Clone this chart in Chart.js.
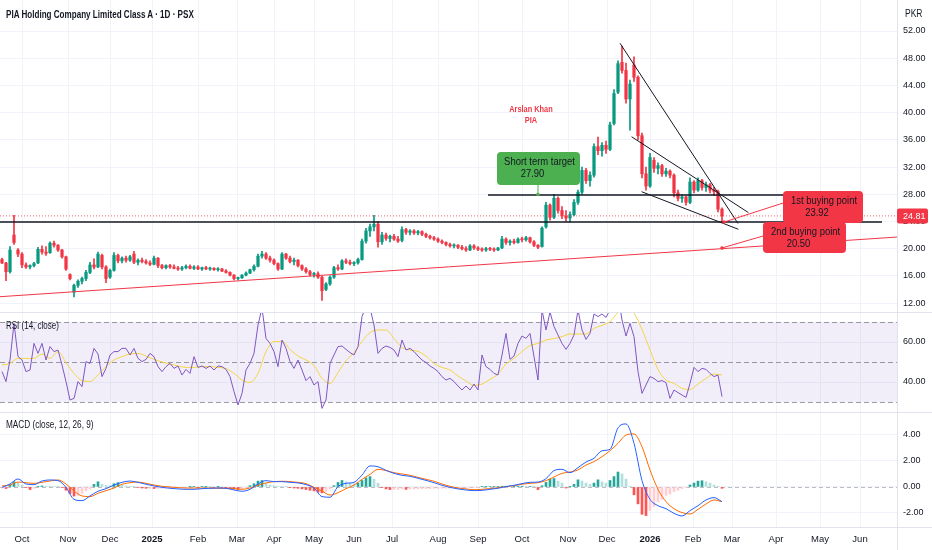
<!DOCTYPE html>
<html>
<head>
<meta charset="utf-8">
<title>PIA Holding Company Limited Class A · 1D · PSX</title>
<script src="https://cdn.jsdelivr.net/npm/chart.js@4.4.1/dist/chart.umd.min.js"></script>
<style>
  html, body { margin: 0; padding: 0; background: #fff; }
  #wrap { position: relative; width: 932px; height: 550px; overflow: hidden; }
  #wrap canvas { position: absolute; left: 0; }
  .pane-label {
    position: absolute; line-height: 1; white-space: nowrap; color: #131722;
    font-family: "Liberation Sans Narrow", "Arial Narrow", "Liberation Sans", Arial, sans-serif;
    transform-origin: left top;
  }
</style>
</head>
<body>
<div id="wrap">
  <canvas id="priceChart" width="932" height="312" style="top:0"></canvas>
  <canvas id="rsiChart" width="932" height="100" style="top:312px"></canvas>
  <canvas id="macdChart" width="932" height="138" style="top:412px"></canvas>
  <div class="pane-label" style="left:6px;top:9px;font-size:10.5px;font-weight:600;transform:scaleX(0.77)">PIA Holding Company Limited Class A · 1D · PSX</div>
  <div class="pane-label" style="left:905px;top:9px;font-size:10px;transform:scaleX(0.85)">PKR</div>
  <div class="pane-label" style="left:6px;top:321px;font-size:10px;transform:scaleX(0.8)">RSI (14, close)</div>
  <div class="pane-label" style="left:6px;top:420px;font-size:10px;transform:scaleX(0.82)">MACD (close, 12, 26, 9)</div>
</div>
<script>
// ---- data (one sample every 2 bars; smooth lines every 4 bars) ----
const opens = [
  18.4, 17.9, 16.6, 22.0, 19.8, 19.2, 17.6, 17.3, 17.5, 17.9,
  19.9, 19.5, 19.4, 20.8, 20.5, 19.8, 18.8, 16.2, 13.6, 14.6,
  15.2, 15.6, 16.5, 17.6, 17.3, 19.0, 17.3, 15.8, 16.8, 19.0,
  18.2, 18.6, 18.3, 19.2, 18.0, 18.3, 18.1, 17.9, 17.7, 18.6,
  17.5, 17.2, 17.5, 17.3, 17.1, 17.0, 17.2, 17.4, 17.1, 17.3,
  17.0, 17.2, 17.0, 17.1, 16.9, 17.0, 16.7, 16.5, 16.1, 15.6,
  15.7, 16.1, 16.4, 16.9, 17.4, 18.9, 19.2, 18.6, 18.3, 17.8,
  17.0, 19.2, 18.6, 18.1, 18.3, 17.5, 17.0, 16.6, 16.2, 16.3,
  15.8, 14.0, 14.8, 15.8, 17.2, 17.0, 18.2, 18.0, 17.8, 17.9,
  18.4, 21.1, 22.6, 23.2, 23.6, 21.0, 22.0, 21.5, 21.8, 21.4,
  21.2, 22.8, 22.4, 22.6, 22.3, 22.5, 22.1, 21.8, 21.6, 21.4,
  21.1, 20.9, 20.6, 20.4, 20.5, 20.2, 20.0, 19.8, 20.4, 20.1,
  19.9, 19.8, 20.0, 19.9, 19.8, 20.1, 21.4, 20.9, 21.1, 20.9,
  21.4, 21.3, 21.6, 21.0, 20.5, 20.3, 23.2, 26.4, 24.6, 27.4,
  25.6, 24.8, 24.5, 25.0, 26.8, 28.3, 31.5, 30.0, 30.8, 35.0,
  34.4, 35.2, 34.6, 38.4, 43.0, 47.4, 46.2, 42.0, 47.0, 45.2,
  36.6, 31.0, 29.2, 33.0, 31.8, 32.2, 31.0, 31.4, 30.8, 28.2,
  27.4, 27.6, 26.8, 29.8, 28.6, 30.0, 29.0, 29.4, 28.6, 28.4, 25.8
];
const highs = [
  18.6, 18.0, 20.3, 24.9, 20.0, 19.4, 17.9, 17.6, 18.0, 20.2,
  20.4, 20.3, 21.0, 21.1, 20.6, 19.9, 18.9, 16.3, 14.8, 15.4,
  15.8, 16.8, 18.0, 18.5, 19.5, 19.2, 17.5, 17.0, 19.4, 19.2,
  18.8, 18.9, 19.0, 19.6, 18.5, 18.6, 18.4, 18.2, 18.9, 18.7,
  17.7, 17.6, 17.7, 17.6, 17.4, 17.4, 17.6, 17.6, 17.5, 17.5,
  17.3, 17.4, 17.3, 17.2, 17.2, 17.1, 16.9, 16.6, 16.2, 15.8,
  16.2, 16.6, 17.0, 17.6, 19.2, 19.6, 19.4, 18.9, 18.5, 17.9,
  19.4, 19.3, 18.9, 18.6, 18.4, 17.6, 17.2, 16.8, 16.5, 16.6,
  16.0, 15.0, 16.0, 17.4, 17.6, 18.4, 18.5, 18.3, 18.1, 18.6,
  21.4, 23.0, 23.6, 24.9, 24.0, 22.4, 22.3, 22.0, 22.1, 21.8,
  23.2, 23.0, 22.8, 22.8, 22.7, 22.6, 22.3, 22.0, 21.8, 21.6,
  21.3, 21.0, 20.8, 20.7, 20.6, 20.5, 20.3, 20.6, 20.6, 20.3,
  20.1, 20.2, 20.2, 20.1, 20.2, 21.8, 21.6, 21.3, 21.4, 21.6,
  21.7, 21.8, 21.7, 21.2, 20.6, 23.2, 26.8, 26.6, 28.0, 27.6,
  26.2, 25.6, 25.4, 27.2, 28.6, 32.0, 31.8, 31.3, 35.4, 36.4,
  35.6, 35.8, 38.6, 43.4, 47.6, 49.8, 47.3, 44.8, 48.2, 45.4,
  37.0, 32.0, 34.0, 33.4, 32.6, 32.4, 31.8, 31.6, 31.0, 28.6,
  28.0, 27.8, 30.4, 30.0, 30.4, 30.2, 29.8, 29.6, 29.0, 28.6, 26.0
];
const lows = [
  17.8, 15.3, 16.4, 20.6, 18.8, 17.2, 17.1, 17.0, 17.3, 17.8,
  19.2, 19.0, 19.3, 20.2, 19.6, 18.6, 16.8, 15.4, 12.9, 14.3,
  14.8, 15.3, 16.3, 17.0, 17.2, 17.0, 15.0, 15.6, 16.7, 17.9,
  17.9, 18.0, 18.1, 17.8, 17.6, 17.9, 17.7, 17.5, 17.6, 17.2,
  17.0, 17.0, 17.1, 17.0, 16.8, 16.8, 17.0, 17.0, 16.9, 16.9,
  16.8, 16.9, 16.8, 16.8, 16.7, 16.6, 16.4, 16.0, 15.4, 15.4,
  15.6, 16.0, 16.3, 16.7, 17.3, 18.6, 18.4, 18.0, 17.6, 16.8,
  16.9, 18.4, 17.9, 17.6, 17.3, 16.8, 16.4, 16.0, 15.8, 15.6,
  12.4, 13.8, 14.6, 15.6, 16.8, 16.9, 17.8, 17.6, 17.5, 17.7,
  18.3, 20.8, 21.8, 22.6, 20.2, 20.6, 21.2, 21.0, 21.2, 20.9,
  21.0, 22.1, 22.0, 22.1, 22.0, 21.9, 21.6, 21.4, 21.2, 20.9,
  20.7, 20.4, 20.2, 20.1, 20.0, 19.8, 19.6, 19.7, 19.9, 19.7,
  19.6, 19.6, 19.7, 19.6, 19.7, 20.0, 20.6, 20.5, 20.7, 20.8,
  21.0, 21.1, 20.8, 20.3, 20.0, 20.2, 23.0, 24.2, 24.4, 25.2,
  24.4, 24.0, 23.9, 24.8, 26.5, 28.0, 29.6, 29.2, 30.5, 33.8,
  33.6, 34.0, 34.4, 38.2, 42.8, 45.8, 41.4, 37.4, 44.6, 36.0,
  30.4, 28.6, 29.0, 31.2, 31.0, 30.6, 30.6, 30.4, 27.6, 27.0,
  26.8, 26.4, 26.6, 28.2, 28.4, 28.6, 28.4, 28.2, 27.8, 25.4, 23.8
];
const closes = [
  17.9, 16.6, 19.8, 20.9, 19.2, 17.6, 17.3, 17.5, 17.8, 19.9,
  19.5, 19.3, 20.8, 20.5, 19.8, 18.8, 17.0, 15.6, 14.6, 15.2,
  15.6, 16.5, 17.6, 17.3, 19.2, 17.3, 15.6, 16.8, 19.0, 18.2,
  18.6, 18.3, 18.8, 18.0, 18.3, 18.1, 17.9, 17.7, 18.6, 17.5,
  17.2, 17.5, 17.3, 17.1, 17.0, 17.2, 17.4, 17.1, 17.3, 17.0,
  17.2, 17.0, 17.1, 16.9, 17.0, 16.7, 16.5, 16.1, 15.6, 15.7,
  16.1, 16.4, 16.9, 17.4, 18.9, 19.2, 18.6, 18.3, 17.8, 17.0,
  19.2, 18.6, 18.1, 18.3, 17.5, 17.0, 16.6, 16.2, 16.3, 15.8,
  13.8, 14.8, 15.8, 17.2, 17.0, 18.2, 18.0, 17.8, 17.9, 18.4,
  21.1, 22.6, 23.2, 23.6, 21.0, 22.0, 21.5, 21.8, 21.4, 21.1,
  22.8, 22.4, 22.6, 22.3, 22.5, 22.1, 21.8, 21.6, 21.4, 21.1,
  20.9, 20.6, 20.4, 20.5, 20.2, 20.0, 19.8, 20.4, 20.1, 19.9,
  19.8, 20.0, 19.9, 19.8, 20.1, 21.4, 20.9, 21.1, 20.9, 21.4,
  21.3, 21.6, 21.0, 20.5, 20.2, 23.0, 26.4, 24.6, 27.4, 25.6,
  24.8, 24.5, 25.0, 26.8, 28.3, 31.5, 30.0, 30.8, 35.0, 34.4,
  35.2, 34.6, 38.2, 42.8, 47.2, 46.2, 42.0, 44.2, 45.2, 36.6,
  31.0, 29.2, 33.4, 31.8, 32.2, 31.0, 31.4, 30.8, 28.2, 27.4,
  27.6, 26.8, 29.8, 28.6, 30.0, 29.0, 29.4, 28.6, 28.4, 25.8, 24.81
];
const rsiValues = [
  45.2, 40.2, 51, 69.3, 52.7, 51, 45.2, 46, 59.3, 54.3,
  59.3, 51, 57.7, 55.2, 56, 48.5, 40.2, 31, 31.8, 40.2,
  37.7, 50.2, 49.3, 56.8, 54, 42.7, 46.8, 53.5, 55.2, 55.2,
  56.8, 56.8, 53.5, 56.8, 51.8, 50.2, 51.3, 54.3, 52.7, 47.7,
  45.2, 47.7, 49.3, 46.8, 48, 43.5, 46.3, 44.3, 52.7, 47.3,
  48, 46.8, 48, 46, 48, 47.7, 46.3, 42.7, 35.2, 28.5,
  34.3, 46, 49.3, 54.3, 68.5, 77, 61.8, 59.3, 55.2, 47.7,
  61, 56.8, 50.2, 46.8, 51, 46, 40.7, 42.7, 38.5, 40.2,
  26.8, 31, 49.3, 53.5, 57.7, 58, 56.3, 54.7, 53.5, 57.7,
  72.7, 78, 77, 68.5, 54.3, 56.8, 58, 57.3, 56, 52.7,
  61, 56, 56.8, 55.2, 53, 51, 49.7, 48, 46.8, 45.2,
  42.7, 41, 41.8, 40.2, 38, 36, 38, 36, 39, 36,
  53.5, 47.7, 46.3, 44.3, 43.5, 53.5, 64.3, 51.3, 53, 59.3,
  63, 61.8, 64.3, 52.7, 41, 76, 66, 75, 67.7, 63.5,
  59.3, 56.3, 59.3, 63.5, 76, 66, 61.3, 64.3, 74, 72.7,
  74, 72.3, 76, 80, 84, 71, 63, 69.3, 62.7, 45.2,
  34.3, 38.5, 42.7, 41.8, 40.2, 40.7, 39.7, 31.8, 36, 34.7,
  33.5, 32.3, 39.3, 47.3, 45.2, 46.8, 46.3, 44.3, 42.7, 43.5, 32.7
];
const rsiMa = [
  48.5, 49.3, 51.8, 51.8, 51.8, 54, 51.8, 55.2, 49.7, 44.3,
  40.7, 40.3, 43.5, 47.7, 51, 52.7, 54, 54.3, 53, 51.3,
  50, 49, 48, 47.3, 47.3, 47.7, 47.7, 47.3, 46.7, 44.3,
  41, 39.8, 44.3, 55.2, 60.2, 60.3, 56.3, 53, 51, 48.2,
  41.8, 39.3, 44.7, 50.7, 54.7, 60.2, 64.7, 66, 66, 61.8,
  57.3, 56, 55.3, 53, 49.3, 47.3, 46, 43, 40.5, 38.3,
  39, 41.3, 44, 49, 51.8, 55.2, 58.2, 59.3, 61, 61.7,
  62.7, 64, 64, 64, 66.8, 68.3, 70.2, 74.7, 77, 74.3,
  66.3, 56, 46.3, 41, 39.3, 36.8, 36.3, 39, 41.8, 44, 43.5
];
const macdLine = [
  -0.03, 0.23, 0.62, 0.23, 0.18, 0.46, 0.54, 0.49, -0.03, -0.95,
  -1.05, -0.69, -0.33, -0.13, 0.15, 0.36, 0.46, 0.36, 0.21, 0.08,
  -0.03, -0.10, -0.15, -0.18, -0.18, -0.13, -0.10, -0.08, -0.10, -0.23,
  -0.33, -0.18, 0.23, 0.49, 0.41, 0.41, 0.36, 0.31, 0.18, -0.08,
  -0.74, -0.79, 0.03, 0.28, 0.36, 0.92, 1.62, 1.56, 1.28, 1.05,
  0.90, 0.82, 0.67, 0.51, 0.33, 0.13, -0.03, -0.15, -0.23, -0.28,
  -0.26, -0.18, -0.10, 0.03, 0.13, 0.26, 0.36, 0.38, 0.64, 1.26,
  1.36, 1.10, 1.49, 1.92, 2.21, 2.79, 2.90, 4.55, 4.85, 3.36,
  0.49, -0.95, -1.44, -1.67, -2.03, -2.23, -1.82, -1.44, -1.0, -0.82, -1.13
];
const signalLine = [
  0.08, 0.15, 0.38, 0.33, 0.28, 0.36, 0.46, 0.54, 0.23, -0.31,
  -0.69, -0.74, -0.49, -0.28, -0.08, 0.21, 0.33, 0.38, 0.28, 0.15,
  0.05, 0.0, -0.05, -0.08, -0.08, -0.08, -0.08, -0.10, -0.10, -0.13,
  -0.18, -0.08, 0.13, 0.31, 0.41, 0.44, 0.41, 0.36, 0.26, -0.03,
  -0.31, -0.62, -0.44, -0.13, 0.15, 0.59, 0.97, 1.36, 1.26, 1.10,
  1.0, 0.90, 0.74, 0.59, 0.44, 0.23, 0.05, -0.08, -0.15, -0.21,
  -0.18, -0.13, -0.05, 0.03, 0.10, 0.21, 0.28, 0.33, 0.49, 0.77,
  1.05, 1.15, 1.31, 1.69, 1.95, 2.33, 2.79, 3.36, 4.0, 4.08,
  3.10, 1.31, -0.18, -1.13, -1.67, -1.97, -2.08, -1.72, -1.31, -1.0, -1.13
];
const histogram = [
  -0.08, -0.12, 0.15, 0.4, 0.3, 0.15, -0.05, -0.2, -0.1, 0.05,
  0.08, 0.06, 0.05, 0.04, 0.02, -0.05, -0.25, -0.5, -0.7, -0.65,
  -0.5, -0.3, -0.15, 0.2, 0.4, 0.2, 0.12, 0.1, 0.25, 0.33,
  0.15, 0.08, 0.05, 0.03, -0.03, -0.08, -0.1, -0.1, -0.12, -0.1,
  -0.1, -0.08, -0.06, -0.05, -0.03, -0.02, -0.02, 0.02, 0.03, -0.02,
  0.02, 0.02, 0.01, -0.02, 0.01, -0.02, -0.03, -0.08, -0.15, -0.2,
  -0.15, -0.05, 0.1, 0.25, 0.45, 0.5, 0.3, 0.15, 0.1, 0.05,
  0.04, 0.02, -0.05, -0.08, -0.1, -0.15, -0.2, -0.25, -0.3, -0.4,
  -0.45, -0.35, -0.15, 0.1, 0.35, 0.5, 0.4, 0.3, 0.25, 0.3,
  0.5, 0.7, 0.8, 0.6, 0.3, -0.05, -0.15, -0.2, -0.2, -0.18,
  -0.15, -0.18, -0.16, -0.15, -0.15, -0.13, -0.12, -0.12, -0.1, -0.1,
  -0.1, -0.09, -0.08, -0.08, -0.07, -0.06, -0.05, -0.04, -0.03, -0.02,
  0.02, 0.03, 0.04, 0.05, 0.05, 0.06, 0.06, 0.05, 0.05, 0.06,
  0.06, 0.05, 0.05, 0.02, -0.2, 0.1, 0.35, 0.6, 0.65, 0.45,
  0.3, -0.08, 0.05, 0.2, 0.55, 0.45, 0.3, 0.2, 0.3, 0.55,
  0.4, 0.3, 0.5, 0.8, 1.15, 1.0, 0.6, 0.05, -0.6, -1.3,
  -2.1, -2.2, -1.8, -1.5, -1.15, -0.95, -0.65, -0.55, -0.35, -0.25,
  -0.12, -0.05, 0.15, 0.3, 0.45, 0.48, 0.4, 0.3, 0.15, 0.05, -0.1
];

// month ticks, in trading-bar units from the left edge of the chart
const monthTickPos = [11, 34, 55, 76, 99, 118.5, 137, 157, 177, 196, 219, 239, 261, 284, 303.5, 325, 346.5, 366, 388, 410, 430];
const monthTickLabels = ['Oct', 'Nov', 'Dec', '2025', 'Feb', 'Mar', 'Apr', 'May', 'Jun', 'Jul', 'Aug', 'Sep', 'Oct', 'Nov', 'Dec', '2026', 'Feb', 'Mar', 'Apr', 'May', 'Jun'];
const priceTicks = [12, 16, 20, 24, 28, 32, 36, 40, 44, 48, 52];
const rsiTicks = [40, 60];
const macdTicks = [-2, 0, 2, 4];

// drawings on the price pane: [bar, price] pairs
const lastPrice = 24.81;
const levels = [{ from: 244, to: 431, price: 27.9 }, { from: 0, to: 441, price: 23.92 }];
const wedgeLines = [[310, 50.2, 369, 23.7], [315.8, 36.45, 374.2, 25.3], [320.8, 28.37, 369.2, 22.84]];
const supportTrend = [0, 12.93, 448.5, 21.7];
const callouts = [
  { text: ['Short term target', '27.90'], fill: '#4CAF50', box: [248.5, 34.2, 290, 29.35], from: [269, 29.35], to: [269, 27.95] },
  { text: ['1st buying point', '23.92'], fill: '#F23645', box: [391.5, 28.47, 431.5, 23.76], from: [391.5, 26.7], to: [362, 23.9] },
  { text: ['2nd buying point', '20.50'], fill: '#F23645', box: [381.5, 23.9, 423, 19.35], from: [381.5, 21.85], to: [361, 20.1] }
];
const signature = { lines: ['Arslan Khan', 'PIA'], bar: 265.5, prices: [40.4, 38.8] };

// ---- look ----
const FONT = '"Liberation Sans Narrow", "Arial Narrow", "Liberation Sans", Arial, sans-serif';
const TEXT = '#131722';
const GRID = '#f0f3fa';
const EDGE = '#e0e3eb';
const UP = '#089981';
const DOWN = '#F23645';
const NARROW = 0.82;
const FIRST_BAR = 1;
const DAILY_STEP = 2;
const SMOOTH_STEP = 4;
const X_MIN = 0;
const X_MAX = 448.5;
const AXIS_WIDTH = 35;

const atBar = (values, step) => values.map((v, i) => ({ x: FIRST_BAR + i * step, y: v }));

// text squeezed horizontally, the chart's labels are set in a condensed face
function narrowText(ctx, text, x, y) {
  ctx.save();
  ctx.translate(x, y);
  ctx.scale(NARROW, 1);
  ctx.fillText(text, 0, 0);
  ctx.restore();
}

function timeAxis(showLabels) {
  return {
    type: 'linear', min: X_MIN, max: X_MAX, offset: false,
    afterBuildTicks: s => { s.ticks = monthTickPos.map(v => ({ value: v })); },
    afterFit: s => {
      s.height = showLabels ? 23 : 0;
      s.paddingLeft = 0;
      s.paddingRight = 0;
    },
    grid: { color: GRID, drawTicks: false, offset: false },
    border: { display: showLabels, color: EDGE },
    ticks: {
      display: showLabels, autoSkip: false, maxRotation: 0, padding: 7, color: TEXT,
      callback: (v, i) => monthTickLabels[i],
      font: c => ({ family: FONT, size: 9.5, weight: /^\d{4}$/.test(monthTickLabels[c.index]) ? 'bold' : 'normal' })
    }
  };
}

function valueAxis(min, max, tickValues) {
  return {
    position: 'right', min, max,
    afterBuildTicks: s => { s.ticks = tickValues.map(v => ({ value: v })); },
    afterFit: s => {
      s.width = AXIS_WIDTH;
      s.paddingTop = 0;
      s.paddingBottom = 0;
    },
    grid: { color: GRID, drawTicks: false },
    border: { color: EDGE },
    ticks: { padding: 6, color: TEXT, font: { family: FONT, size: 9 }, callback: v => v.toFixed(2) }
  };
}

const baseOptions = {
  responsive: false, animation: false, events: [],
  layout: { padding: 0 },
  plugins: { legend: { display: false }, tooltip: { enabled: false } }
};

const paneTopLine = {
  id: 'paneTopLine',
  afterDraw(chart) {
    const { ctx } = chart;
    ctx.save();
    ctx.strokeStyle = EDGE;
    ctx.lineWidth = 1;
    ctx.beginPath();
    ctx.moveTo(0, 0.5);
    ctx.lineTo(chart.width, 0.5);
    ctx.stroke();
    ctx.restore();
  }
};

// ---- price pane ----
const rising = closes.map((c, i) => c >= opens[i]);
const candleColors = rising.map(r => (r ? UP : DOWN));

const priceNotes = {
  id: 'priceNotes',
  afterDatasetsDraw(chart) {
    const { ctx, scales: { x, y } } = chart;
    const px = v => x.getPixelForValue(v);
    const py = v => y.getPixelForValue(v);
    const seg = (x0, y0, x1, y1, color, width, dash) => {
      ctx.beginPath();
      ctx.setLineDash(dash || []);
      ctx.strokeStyle = color;
      ctx.lineWidth = width;
      ctx.moveTo(px(x0), py(y0));
      ctx.lineTo(px(x1), py(y1));
      ctx.stroke();
    };
    ctx.save();
    seg(X_MIN, lastPrice, X_MAX, lastPrice, 'rgba(242, 54, 69, 0.75)', 1, [1, 2]);
    seg(...supportTrend, '#F23645', 1);
    levels.forEach(l => seg(l.from, l.price, l.to, l.price, TEXT, 1.5));
    wedgeLines.forEach(l => seg(...l, TEXT, 1));

    callouts.forEach(c => {
      seg(...c.from, ...c.to, c.fill, 1);
      ctx.fillStyle = c.fill;
      ctx.beginPath();
      ctx.arc(px(c.to[0]), py(c.to[1]), 1.8, 0, Math.PI * 2);
      ctx.fill();
    });
    callouts.forEach(c => {
      const [b0, top, b1, bottom] = c.box;
      const left = px(b0), right = px(b1), t = py(top), b = py(bottom);
      ctx.fillStyle = c.fill;
      ctx.beginPath();
      ctx.roundRect(left, t, right - left, b - t, 4);
      ctx.fill();
      ctx.fillStyle = TEXT;
      ctx.textAlign = 'center';
      ctx.textBaseline = 'middle';
      ctx.font = '11.5px ' + FONT;
      const mid = (left + right) / 2;
      narrowText(ctx, c.text[0], mid + 1, t + 10);
      narrowText(ctx, c.text[1], mid - 6, t + 22);
    });

    ctx.fillStyle = '#F23645';
    ctx.textAlign = 'center';
    ctx.textBaseline = 'middle';
    ctx.font = 'bold 9px ' + FONT;
    signature.lines.forEach((s, i) => narrowText(ctx, s, px(signature.bar), py(signature.prices[i])));
    ctx.restore();
  },
  afterDraw(chart) {
    const { ctx, chartArea, scales: { y } } = chart;
    const yy = y.getPixelForValue(lastPrice);
    ctx.save();
    ctx.fillStyle = '#F23645';
    ctx.beginPath();
    ctx.roundRect(chartArea.right, yy - 7.5, 31, 15, 2);
    ctx.fill();
    ctx.fillStyle = '#fff';
    ctx.font = '9px ' + FONT;
    ctx.textAlign = 'left';
    ctx.textBaseline = 'middle';
    ctx.fillText(lastPrice.toFixed(2), chartArea.right + 6, yy + 0.5);
    ctx.restore();
  }
};

new Chart(document.getElementById('priceChart'), {
  type: 'bar',
  data: {
    datasets: [
      {
        data: highs.map((h, i) => ({ x: FIRST_BAR + i * DAILY_STEP, y: [lows[i], h] })),
        backgroundColor: candleColors, barThickness: 1, grouped: false
      },
      {
        data: opens.map((o, i) => ({ x: FIRST_BAR + i * DAILY_STEP, y: [o, closes[i]] })),
        backgroundColor: candleColors, barThickness: 2.6, minBarLength: 1, grouped: false
      }
    ]
  },
  options: {
    ...baseOptions,
    scales: { x: timeAxis(false), y: valueAxis(10.68, 56.56, priceTicks) }
  },
  plugins: [priceNotes]
});

// ---- RSI pane ----
const RSI_UPPER = 70, RSI_MID = 50, RSI_LOWER = 30;
const rsiBands = {
  id: 'rsiBands',
  beforeDatasetsDraw(chart) {
    const { ctx, chartArea: a, scales: { y } } = chart;
    ctx.save();
    const top = y.getPixelForValue(RSI_UPPER), bottom = y.getPixelForValue(RSI_LOWER);
    ctx.fillStyle = 'rgba(126, 87, 194, 0.1)';
    ctx.fillRect(a.left, top, a.width, bottom - top);
    ctx.setLineDash([5, 3]);
    ctx.strokeStyle = 'rgba(120, 123, 134, 0.75)';
    ctx.lineWidth = 1;
    [RSI_UPPER, RSI_MID, RSI_LOWER].forEach(v => {
      const p = Math.round(y.getPixelForValue(v)) + 0.5;
      ctx.beginPath();
      ctx.moveTo(a.left, p);
      ctx.lineTo(a.right, p);
      ctx.stroke();
    });
    ctx.restore();
  }
};

new Chart(document.getElementById('rsiChart'), {
  type: 'line',
  data: {
    datasets: [
      { data: atBar(rsiValues, DAILY_STEP), borderColor: '#7E57C2', borderWidth: 1, pointRadius: 0, tension: 0 },
      { data: atBar(rsiMa, SMOOTH_STEP), borderColor: '#F5D547', borderWidth: 1, pointRadius: 0, cubicInterpolationMode: 'monotone' }
    ]
  },
  options: {
    ...baseOptions,
    scales: { x: timeAxis(false), y: valueAxis(25, 75, rsiTicks) }
  },
  plugins: [rsiBands, paneTopLine]
});

// ---- MACD pane ----
const histColors = histogram.map((h, i) => {
  const prev = i ? histogram[i - 1] : h;
  if (h >= 0) return h >= prev ? '#26A69A' : '#B2DFDB';
  return h < prev ? '#FF5252' : '#FFCDD2';
});

const zeroLine = {
  id: 'zeroLine',
  beforeDatasetsDraw(chart) {
    const { ctx, chartArea: a, scales: { y } } = chart;
    const p = Math.round(y.getPixelForValue(0)) + 0.5;
    ctx.save();
    ctx.setLineDash([4, 3]);
    ctx.strokeStyle = 'rgba(120, 123, 134, 0.5)';
    ctx.lineWidth = 1;
    ctx.beginPath();
    ctx.moveTo(a.left, p);
    ctx.lineTo(a.right, p);
    ctx.stroke();
    ctx.restore();
  },
  afterDraw(chart) {
    // the price-scale separator runs on through the date row
    const { ctx, chartArea: a } = chart;
    ctx.save();
    ctx.strokeStyle = EDGE;
    ctx.lineWidth = 1;
    ctx.beginPath();
    ctx.moveTo(Math.round(a.right) + 0.5, a.bottom);
    ctx.lineTo(Math.round(a.right) + 0.5, chart.height);
    ctx.moveTo(a.right, Math.round(a.bottom) + 0.5);
    ctx.lineTo(chart.width, Math.round(a.bottom) + 0.5);
    ctx.stroke();
    ctx.restore();
  }
};

new Chart(document.getElementById('macdChart'), {
  type: 'bar',
  data: {
    datasets: [
      { type: 'line', data: atBar(macdLine, SMOOTH_STEP), borderColor: '#2962FF', borderWidth: 1, pointRadius: 0, cubicInterpolationMode: 'monotone' },
      { type: 'line', data: atBar(signalLine, SMOOTH_STEP), borderColor: '#FF6D00', borderWidth: 1, pointRadius: 0, cubicInterpolationMode: 'monotone' },
      { data: atBar(histogram, DAILY_STEP), backgroundColor: histColors, barThickness: 2, grouped: false }
    ]
  },
  options: {
    ...baseOptions,
    scales: { x: timeAxis(true), y: valueAxis(-3.08, 5.77, macdTicks) }
  },
  plugins: [zeroLine, paneTopLine]
});
</script>
</body>
</html>
